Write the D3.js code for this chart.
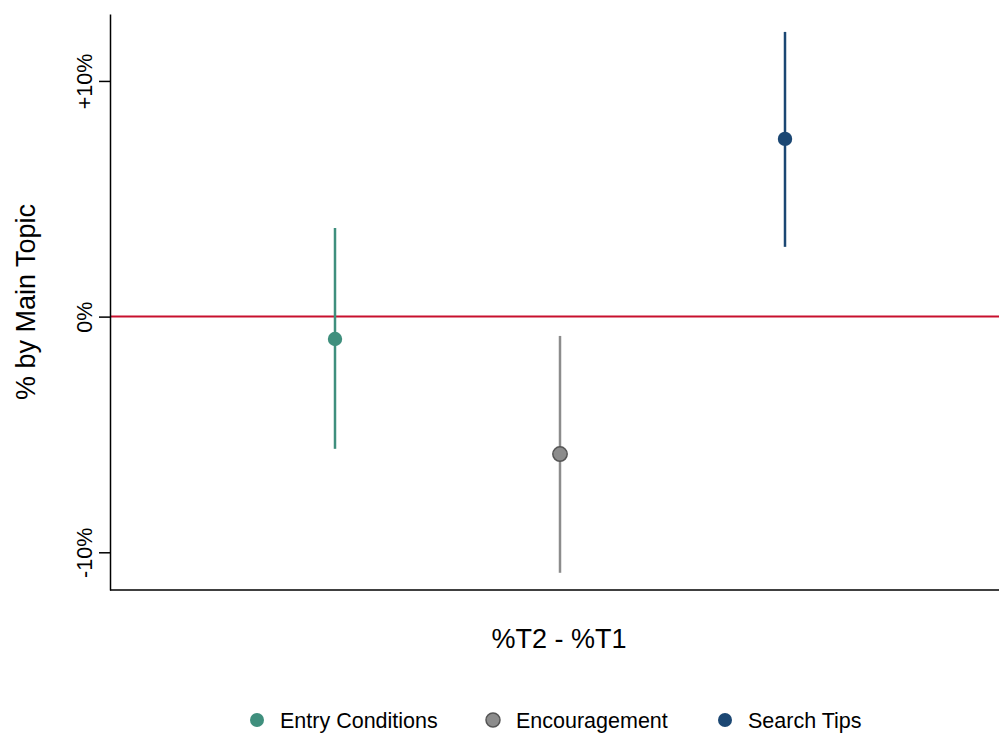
<!DOCTYPE html>
<html>
<head>
<meta charset="utf-8">
<script src="https://d3js.org/d3.v7.min.js"></script>
<style>
  body { margin: 0; background: #fff; }
  svg { display: block; font-family: "Liberation Sans", Arial, sans-serif; }
</style>
</head>
<body>
<svg></svg>
<script>
// topics and their estimate with the interval ends
var topics = ["Entry Conditions", "Encouragement", "Search Tips"];
var estimates = [-0.0095, -0.0583, 0.0754];
var lowerBounds = [-0.0561, -0.1087, 0.0296];
var upperBounds = [0.0376, -0.0082, 0.1208];
var topicColors = ["#3f8f7d", "#8c8c8c", "#1b4773"];
var tickValues = [-0.1, 0, 0.1];
var tickLabels = ["-10%", "0%", "+10%"];

var width = 999, height = 734;
var svg = d3.select("svg").attr("width", width).attr("height", height);

var plotLeft = 110, plotBottom = 590, plotTop = 14;

var x = d3.scaleLinear().domain([0, 4]).range([plotLeft, 1010]);
var y = d3.scaleLinear().domain([-0.116, 0.1284]).range([plotBottom, plotTop]);

var data = topics.map(function(t, i) {
    return { name: t, est: estimates[i], lo: lowerBounds[i], hi: upperBounds[i], color: topicColors[i], pos: i + 1 };
});

// zero reference line
svg.append("line")
    .attr("x1", plotLeft).attr("x2", width)
    .attr("y1", y(0)).attr("y2", y(0))
    .attr("stroke", "#c8102e").attr("stroke-width", 2);

// y axis
var yAxis = d3.axisLeft(y)
    .tickValues(tickValues)
    .tickFormat(function(d, i) { return tickLabels[i]; })
    .tickSize(11)
    .tickSizeOuter(0);

var gy = svg.append("g").attr("transform", "translate(" + plotLeft + ",0)").call(yAxis);
gy.select(".domain").attr("stroke", "#000").attr("stroke-width", 1.5);
gy.selectAll(".tick line").attr("stroke", "#000").attr("stroke-width", 1.5);
gy.selectAll(".tick text")
    .attr("x", null).attr("dy", null)
    .attr("transform", "translate(-18,0) rotate(-90)")
    .attr("text-anchor", "middle")
    .style("font-size", "21.5px")
    .attr("fill", "#000");

// x axis line (no ticks)
svg.append("line")
    .attr("x1", plotLeft).attr("x2", width)
    .attr("y1", plotBottom).attr("y2", plotBottom)
    .attr("stroke", "#000").attr("stroke-width", 1.5);

// intervals
svg.selectAll(".ci").data(data).enter().append("line")
    .attr("class", "ci")
    .attr("x1", d => x(d.pos)).attr("x2", d => x(d.pos))
    .attr("y1", d => y(d.lo)).attr("y2", d => y(d.hi))
    .attr("stroke", d => d.color)
    .attr("stroke-width", 2.5);

// points
svg.selectAll(".pt").data(data).enter().append("circle")
    .attr("class", "pt")
    .attr("cx", d => x(d.pos)).attr("cy", d => y(d.est))
    .attr("r", 7.2)
    .attr("fill", d => d.color)
    .attr("stroke", (d, i) => i === 1 ? "#555" : "none")
    .attr("stroke-width", 1.5);

// axis titles
svg.append("text")
    .attr("transform", "translate(35,302) rotate(-90)")
    .attr("text-anchor", "middle")
    .style("font-size", "27px")
    .text("% by Main Topic");

svg.append("text")
    .attr("x", 559).attr("y", 648)
    .attr("text-anchor", "middle")
    .style("font-size", "27px")
    .text("%T2 - %T1");

// legend
var legendX = [257, 493, 725];
var legend = svg.selectAll(".lg").data(data).enter().append("g")
    .attr("class", "lg")
    .attr("transform", (d, i) => "translate(" + legendX[i] + ",720)");

legend.append("circle")
    .attr("r", 7)
    .attr("fill", d => d.color)
    .attr("stroke", (d, i) => i === 1 ? "#555" : "none")
    .attr("stroke-width", 1.5);

legend.append("text")
    .attr("x", 23).attr("dy", "0.35em")
    .style("font-size", "21.5px")
    .text(d => d.name);
</script>
</body>
</html>
